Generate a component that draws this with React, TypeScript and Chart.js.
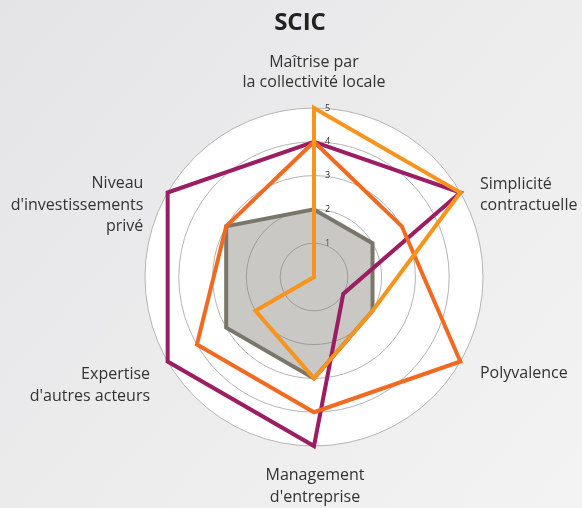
import React, { useEffect, useRef } from "react";
import { Chart, registerables } from "chart.js";

Chart.register(...registerables);

const chartTitle = "SCIC";
const categories: string[][] = [
  ["Maîtrise par", "la collectivité locale"],
  ["Simplicité", "contractuelle"],
  ["Polyvalence"],
  ["Management", "d'entreprise"],
  ["Expertise", "d'autres acteurs"],
  ["Niveau", "d'investissements", "privé"],
];
const seriesYellow = [5, 5, 2, 3, 2, 0];
const seriesOrange = [4, 3, 5, 4, 4, 3];
const seriesPurple = [4, 5, 1, 5, 5, 5];
const seriesGray = [2, 2, 2, 3, 3, 3];
const scaleMin = 0;
const scaleMax = 5;
const tickStep = 1;

const labelLayout = [
  { align: "center", dx: 0, dy: -41.5, lh: 20.5 },
  { align: "left", dx: 19.6, dy: -3.5, lh: 21 },
  { align: "left", dx: 19.6, dy: 16.2, lh: 21 },
  { align: "center", dx: 1, dy: 33.5, lh: 22 },
  { align: "right", dx: -17.6, dy: 17.8, lh: 21.4 },
  { align: "right", dx: -24.3, dy: -4.2, lh: 21.3 },
];

const decorPlugin = {
  id: "decor",
  beforeDraw(chart: any) {
    const { ctx, width, height } = chart;
    const scale = chart.scales.r;
    ctx.save();
    const g = ctx.createLinearGradient(0, 0, width, height);
    g.addColorStop(0, "#e4e4e6");
    g.addColorStop(0.5, "#ececed");
    g.addColorStop(1, "#f3f3f3");
    ctx.fillStyle = g;
    ctx.fillRect(0, 0, width, height);
    ctx.beginPath();
    ctx.arc(scale.xCenter, scale.yCenter, scale.drawingArea, 0, Math.PI * 2);
    ctx.fillStyle = "#ffffff";
    ctx.fill();
    ctx.restore();
  },
  afterDraw(chart: any) {
    const { ctx } = chart;
    const scale = chart.scales.r;
    ctx.save();
    ctx.fillStyle = "#222222";
    ctx.font = 'bold 24px "Open Sans"';
    ctx.textAlign = "center";
    ctx.textBaseline = "alphabetic";
    ctx.fillText(chartTitle, 300, 30);

    ctx.font = '16px "Open Sans"';
    ctx.fillStyle = "#333333";
    const labels = chart.data.labels as string[][];
    labels.forEach((lines, i) => {
      const p = scale.getPointPosition(i, scale.drawingArea);
      const lay = labelLayout[i];
      ctx.textAlign = lay.align;
      lines.forEach((line, j) => {
        ctx.fillText(line, p.x + lay.dx, p.y + lay.dy + j * lay.lh);
      });
    });
    ctx.restore();
  },
};

export default function App() {
  const canvasRef = useRef<HTMLCanvasElement | null>(null);

  useEffect(() => {
    if (!canvasRef.current) return;
    const chart = new Chart(canvasRef.current, {
      type: "radar",
      data: {
        labels: categories,
        datasets: [
          {
            label: "A",
            data: seriesYellow,
            borderColor: "#f7941d",
            borderWidth: 4,
            fill: false,
            pointRadius: 0,
          },
          {
            label: "B",
            data: seriesOrange,
            borderColor: "#f26a21",
            borderWidth: 4,
            fill: false,
            pointRadius: 0,
          },
          {
            label: "C",
            data: seriesPurple,
            borderColor: "#9b1d63",
            borderWidth: 4,
            fill: false,
            pointRadius: 0,
          },
          {
            label: "D",
            data: seriesGray,
            borderColor: "#7a766c",
            backgroundColor: "rgba(122,118,108,0.4)",
            borderWidth: 4,
            fill: true,
            pointRadius: 0,
          },
        ],
      },
      options: {
        animation: false,
        responsive: true,
        maintainAspectRatio: false,
        layout: { padding: { top: 102, bottom: 55, left: 100, right: 54 } },
        plugins: {
          legend: { display: false },
          title: { display: false },
          tooltip: { enabled: false },
        },
        elements: { line: { tension: 0, borderJoinStyle: "miter" } },
        scales: {
          r: {
            min: scaleMin,
            max: scaleMax,
            beginAtZero: true,
            angleLines: { display: false },
            grid: { circular: true, color: "#b5b5b5", lineWidth: 1 },
            pointLabels: { display: false },
            ticks: {
              stepSize: tickStep,
              showLabelBackdrop: false,
              color: "#333333",
              font: { family: "Open Sans", size: 9 },
              callback: (v: any) => (v === 0 ? "" : "\u2003\u2003\u2003" + v),
            },
          },
        },
      },
      plugins: [decorPlugin],
    });
    return () => chart.destroy();
  }, []);

  return (
    <div style={{ position: "absolute", left: 0, top: 0, width: 582, height: 508 }}>
      <canvas ref={canvasRef} />
    </div>
  );
}
